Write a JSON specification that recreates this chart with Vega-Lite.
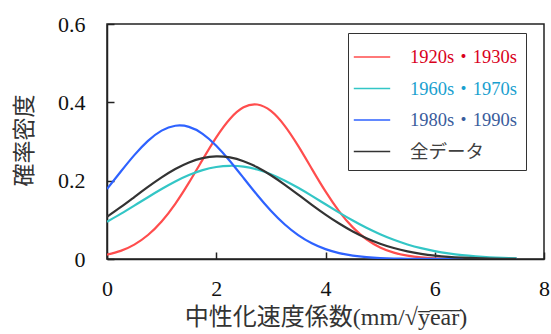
{
  "$schema": "https://vega.github.io/schema/vega-lite/v6.json",
  "width": 437,
  "height": 235,
  "autosize": {"type": "none"},
  "padding": {"left": 107, "top": 24, "right": 7, "bottom": 75},
  "background": "white",
  "config": {
    "view": {"stroke": "#222", "strokeWidth": 1.5},
    "font": "Liberation Serif, Noto Sans CJK JP"
  },
  "data": {
    "values": [
      {"x": 0, "y": 0.0111, "s": "1920s・1930s"}, {"x": 0.25, "y": 0.0208, "s": "1920s・1930s"}, {"x": 0.5, "y": 0.0368, "s": "1920s・1930s"}, {"x": 0.75, "y": 0.0613, "s": "1920s・1930s"},
      {"x": 1, "y": 0.0958, "s": "1920s・1930s"}, {"x": 1.25, "y": 0.1409, "s": "1920s・1930s"}, {"x": 1.5, "y": 0.195, "s": "1920s・1930s"}, {"x": 1.75, "y": 0.2538, "s": "1920s・1930s"},
      {"x": 2, "y": 0.3107, "s": "1920s・1930s"}, {"x": 2.25, "y": 0.3577, "s": "1920s・1930s"}, {"x": 2.5, "y": 0.3873, "s": "1920s・1930s"}, {"x": 2.75, "y": 0.3945, "s": "1920s・1930s"},
      {"x": 3, "y": 0.378, "s": "1920s・1930s"}, {"x": 3.25, "y": 0.3406, "s": "1920s・1930s"}, {"x": 3.5, "y": 0.2887, "s": "1920s・1930s"}, {"x": 3.75, "y": 0.2301, "s": "1920s・1930s"},
      {"x": 4, "y": 0.1725, "s": "1920s・1930s"}, {"x": 4.25, "y": 0.1217, "s": "1920s・1930s"}, {"x": 4.5, "y": 0.0807, "s": "1920s・1930s"}, {"x": 4.75, "y": 0.0504, "s": "1920s・1930s"},
      {"x": 5, "y": 0.0296, "s": "1920s・1930s"}, {"x": 5.25, "y": 0.0163, "s": "1920s・1930s"}, {"x": 5.5, "y": 0.0085, "s": "1920s・1930s"}, {"x": 5.75, "y": 0.0041, "s": "1920s・1930s"},
      {"x": 6, "y": 0.0019, "s": "1920s・1930s"}, {"x": 6.25, "y": 0.0008, "s": "1920s・1930s"}, {"x": 6.5, "y": 0.0003, "s": "1920s・1930s"}, {"x": 6.75, "y": 0.0001, "s": "1920s・1930s"},
      {"x": 7, "y": 0, "s": "1920s・1930s"}, {"x": 7.25, "y": 0, "s": "1920s・1930s"}, {"x": 7.5, "y": 0, "s": "1920s・1930s"},

      {"x": 0, "y": 0.0951, "s": "1960s・1970s"}, {"x": 0.25, "y": 0.1151, "s": "1960s・1970s"}, {"x": 0.5, "y": 0.1363, "s": "1960s・1970s"}, {"x": 0.75, "y": 0.1578, "s": "1960s・1970s"},
      {"x": 1, "y": 0.1786, "s": "1960s・1970s"}, {"x": 1.25, "y": 0.1978, "s": "1960s・1970s"}, {"x": 1.5, "y": 0.2142, "s": "1960s・1970s"}, {"x": 1.75, "y": 0.2268, "s": "1960s・1970s"},
      {"x": 2, "y": 0.2349, "s": "1960s・1970s"}, {"x": 2.25, "y": 0.238, "s": "1960s・1970s"}, {"x": 2.5, "y": 0.2358, "s": "1960s・1970s"}, {"x": 2.75, "y": 0.2284, "s": "1960s・1970s"},
      {"x": 3, "y": 0.2165, "s": "1960s・1970s"}, {"x": 3.25, "y": 0.2006, "s": "1960s・1970s"}, {"x": 3.5, "y": 0.1818, "s": "1960s・1970s"}, {"x": 3.75, "y": 0.1612, "s": "1960s・1970s"},
      {"x": 4, "y": 0.1397, "s": "1960s・1970s"}, {"x": 4.25, "y": 0.1185, "s": "1960s・1970s"}, {"x": 4.5, "y": 0.0982, "s": "1960s・1970s"}, {"x": 4.75, "y": 0.0796, "s": "1960s・1970s"},
      {"x": 5, "y": 0.0632, "s": "1960s・1970s"}, {"x": 5.25, "y": 0.049, "s": "1960s・1970s"}, {"x": 5.5, "y": 0.0372, "s": "1960s・1970s"}, {"x": 5.75, "y": 0.0276, "s": "1960s・1970s"},
      {"x": 6, "y": 0.02, "s": "1960s・1970s"}, {"x": 6.25, "y": 0.0142, "s": "1960s・1970s"}, {"x": 6.5, "y": 0.0098, "s": "1960s・1970s"}, {"x": 6.75, "y": 0.0067, "s": "1960s・1970s"},
      {"x": 7, "y": 0.0044, "s": "1960s・1970s"}, {"x": 7.25, "y": 0.0029, "s": "1960s・1970s"}, {"x": 7.5, "y": 0.0018, "s": "1960s・1970s"},

      {"x": 0, "y": 0.1787, "s": "1980s・1990s"}, {"x": 0.25, "y": 0.2227, "s": "1980s・1990s"}, {"x": 0.5, "y": 0.2652, "s": "1980s・1990s"}, {"x": 0.75, "y": 0.3016, "s": "1980s・1990s"},
      {"x": 1, "y": 0.3277, "s": "1980s・1990s"}, {"x": 1.25, "y": 0.3402, "s": "1980s・1990s"}, {"x": 1.5, "y": 0.3374, "s": "1980s・1990s"}, {"x": 1.75, "y": 0.3197, "s": "1980s・1990s"},
      {"x": 2, "y": 0.2894, "s": "1980s・1990s"}, {"x": 2.25, "y": 0.2503, "s": "1980s・1990s"}, {"x": 2.5, "y": 0.2068, "s": "1980s・1990s"}, {"x": 2.75, "y": 0.1633, "s": "1980s・1990s"},
      {"x": 3, "y": 0.1231, "s": "1980s・1990s"}, {"x": 3.25, "y": 0.0887, "s": "1980s・1990s"}, {"x": 3.5, "y": 0.0611, "s": "1980s・1990s"}, {"x": 3.75, "y": 0.0402, "s": "1980s・1990s"},
      {"x": 4, "y": 0.0252, "s": "1980s・1990s"}, {"x": 4.25, "y": 0.0151, "s": "1980s・1990s"}, {"x": 4.5, "y": 0.0087, "s": "1980s・1990s"}, {"x": 4.75, "y": 0.0048, "s": "1980s・1990s"},
      {"x": 5, "y": 0.0025, "s": "1980s・1990s"}, {"x": 5.25, "y": 0.0012, "s": "1980s・1990s"}, {"x": 5.5, "y": 0.0006, "s": "1980s・1990s"}, {"x": 5.75, "y": 0.0003, "s": "1980s・1990s"},
      {"x": 6, "y": 0.0001, "s": "1980s・1990s"}, {"x": 6.25, "y": 0, "s": "1980s・1990s"}, {"x": 6.5, "y": 0, "s": "1980s・1990s"}, {"x": 6.75, "y": 0, "s": "1980s・1990s"},
      {"x": 7, "y": 0, "s": "1980s・1990s"}, {"x": 7.25, "y": 0, "s": "1980s・1990s"}, {"x": 7.5, "y": 0, "s": "1980s・1990s"},

      {"x": 0, "y": 0.1078, "s": "全データ"}, {"x": 0.25, "y": 0.1323, "s": "全データ"}, {"x": 0.5, "y": 0.1582, "s": "全データ"}, {"x": 0.75, "y": 0.184, "s": "全データ"},
      {"x": 1, "y": 0.2084, "s": "全データ"}, {"x": 1.25, "y": 0.2298, "s": "全データ"}, {"x": 1.5, "y": 0.2466, "s": "全データ"}, {"x": 1.75, "y": 0.2576, "s": "全データ"},
      {"x": 2, "y": 0.262, "s": "全データ"}, {"x": 2.25, "y": 0.2593, "s": "全データ"}, {"x": 2.5, "y": 0.2498, "s": "全データ"}, {"x": 2.75, "y": 0.2343, "s": "全データ"},
      {"x": 3, "y": 0.2139, "s": "全データ"}, {"x": 3.25, "y": 0.1901, "s": "全データ"}, {"x": 3.5, "y": 0.1644, "s": "全データ"}, {"x": 3.75, "y": 0.1384, "s": "全データ"},
      {"x": 4, "y": 0.1135, "s": "全データ"}, {"x": 4.25, "y": 0.0906, "s": "全データ"}, {"x": 4.5, "y": 0.0703, "s": "全データ"}, {"x": 4.75, "y": 0.0532, "s": "全データ"},
      {"x": 5, "y": 0.0391, "s": "全データ"}, {"x": 5.25, "y": 0.028, "s": "全データ"}, {"x": 5.5, "y": 0.0195, "s": "全データ"}, {"x": 5.75, "y": 0.0133, "s": "全データ"},
      {"x": 6, "y": 0.0088, "s": "全データ"}, {"x": 6.25, "y": 0.0056, "s": "全データ"}, {"x": 6.5, "y": 0.0035, "s": "全データ"}, {"x": 6.75, "y": 0.0021, "s": "全データ"},
      {"x": 7, "y": 0.0013, "s": "全データ"}, {"x": 7.25, "y": 0.0007, "s": "全データ"}, {"x": 7.5, "y": 0.0004, "s": "全データ"}
    ]
  },
  "mark": {"type": "line", "strokeWidth": 2.2, "interpolate": "natural", "clip": true},
  "encoding": {
    "x": {
      "field": "x", "type": "quantitative",
      "scale": {"domain": [0, 8], "nice": false},
      "axis": {
        "title": "中性化速度係数(mm/√y\u0305e\u0305a\u0305r\u0305)",
        "values": [0, 2, 4, 6, 8],
        "grid": false,
        "tickSize": -7, "tickWidth": 1.5, "tickColor": "#222",
        "domainColor": "#222", "domainWidth": 1.5,
        "labelFont": "Liberation Serif", "labelFontSize": 22, "labelColor": "#111",
        "labelPadding": 26, "labelFlush": false,
        "titleFont": "Liberation Serif, Noto Sans CJK JP", "titleFontSize": 24, "titleFontWeight": "normal", "titleColor": "#333",
        "titleY": 58, "titleBaseline": "middle"
      }
    },
    "y": {
      "field": "y", "type": "quantitative",
      "scale": {"domain": [0, 0.6], "nice": false},
      "axis": {
        "title": "確率密度",
        "values": [0, 0.2, 0.4, 0.6],
        "labelExpr": "datum.value == 0 ? '0' : format(datum.value, '.1f')",
        "grid": false,
        "tickSize": -7, "tickWidth": 1.5, "tickColor": "#222",
        "domainColor": "#222", "domainWidth": 1.5,
        "labelFont": "Liberation Serif", "labelFontSize": 22, "labelColor": "#111",
        "labelPadding": 29, "labelFlush": false,
        "titleFont": "Noto Sans CJK JP", "titleFontSize": 23, "titleFontWeight": "normal", "titleColor": "#333",
        "titleX": -83, "titleY": 116, "titleBaseline": "middle", "titleAngle": -90
      }
    },
    "color": {
      "field": "s", "type": "nominal",
      "scale": {
        "domain": ["1920s・1930s", "1960s・1970s", "1980s・1990s", "全データ"],
        "range": ["#ff4d4d", "#33c6c6", "#2e62ff", "#333333"]
      },
      "legend": {
        "title": null,
        "orient": "none",
        "legendX": 241,
        "legendY": 9,
        "strokeColor": "#333",
        "fillColor": "white",
        "padding": 9,
        "symbolType": "M-1.3,0H1.3",
        "symbolSize": 784,
        "symbolStrokeWidth": 1.6,
        "labelFont": "Liberation Serif, Noto Sans CJK JP",
        "labelFontSize": 18.5,
        "labelOffset": 23,
        "rowPadding": 6.5,
        "encode": {
          "labels": {
            "update": {
              "fill": {"signal": "datum.value === '1920s・1930s' ? '#d9001b' : datum.value === '1960s・1970s' ? '#1a9fcf' : datum.value === '1980s・1990s' ? '#3a5c9c' : '#404040'"}
            }
          }
        }
      }
    }
  }
}
